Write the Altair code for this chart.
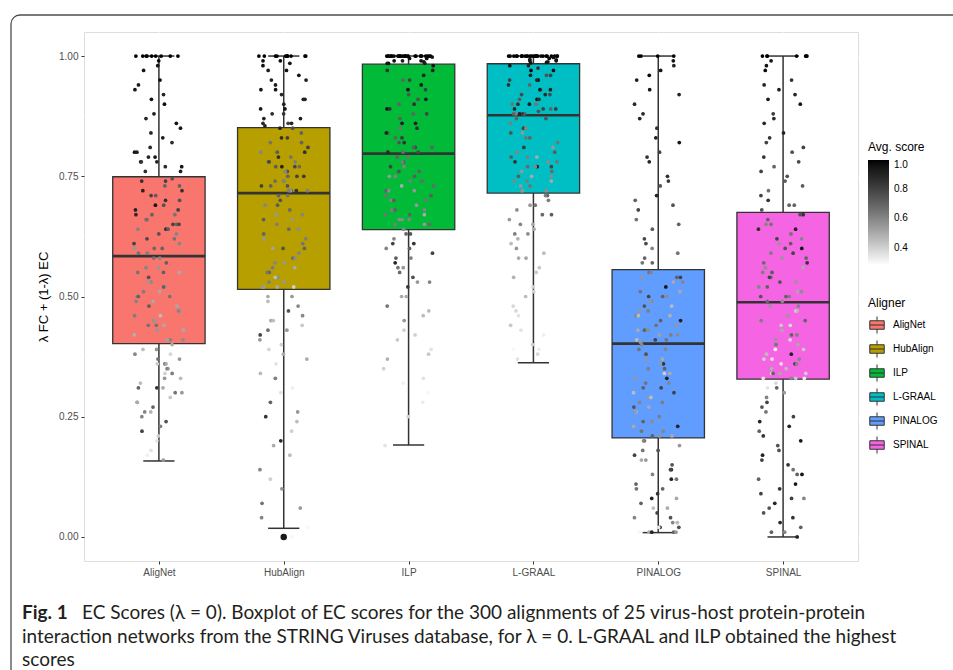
import altair as alt
import pandas as pd

# ---------------- data ----------------
aligners = ["AligNet", "HubAlign", "ILP", "L-GRAAL", "PINALOG", "SPINAL"]
box_colors = ["#F8766D", "#B79F00", "#00BA38", "#00BFC4", "#619CFF", "#F564E3"]
q1 = [0.402, 0.515, 0.639, 0.715, 0.206, 0.328]
median = [0.584, 0.715, 0.797, 0.877, 0.402, 0.488]
q3 = [0.749, 0.851, 0.983, 0.984, 0.556, 0.675]
whisker_low = [0.158, 0.018, 0.191, 0.362, 0.009, 0.000]
whisker_high = [1.0, 1.0, 1.0, 1.0, 1.0, 1.0]

outlier_aligner = ["HubAlign"]
outlier_value = [0.0]

alignet_ec = [1.0, 1.0, 1.0, 1.0, 1.0, 1.0, 0.99, 0.98, 0.95, 0.93, 0.92, 0.90, 0.88, 0.86, 0.84, 0.83, 0.82, 0.80, 0.79, 0.78, 0.78, 0.77, 0.77, 0.76, 0.76,
              0.745, 0.74, 0.73, 0.72, 0.71, 0.71, 0.70, 0.69, 0.69, 0.68, 0.67, 0.67, 0.66, 0.66, 0.65, 0.65, 0.64, 0.64, 0.63, 0.62, 0.62, 0.61, 0.60, 0.60, 0.59,
              0.58, 0.57, 0.56, 0.55, 0.55, 0.54, 0.53, 0.52, 0.52, 0.51, 0.50, 0.50, 0.49, 0.48, 0.48, 0.47, 0.46, 0.46, 0.45, 0.44, 0.44, 0.43, 0.42, 0.41, 0.41,
              0.40, 0.39, 0.38, 0.38, 0.37, 0.36, 0.36, 0.35, 0.34, 0.34, 0.33, 0.32, 0.31, 0.31, 0.30, 0.29, 0.28, 0.27, 0.26, 0.25, 0.24, 0.22, 0.20, 0.17, 0.16,
              1.0, 1.0, 1.0, 0.97, 0.94, 0.91, 0.87, 0.85, 0.81, 0.80, 0.79, 0.78,
              0.74, 0.73, 0.72, 0.70, 0.68, 0.67, 0.65, 0.64, 0.63, 0.61, 0.60, 0.59,
              0.58, 0.56, 0.55, 0.53, 0.51, 0.50, 0.49, 0.47, 0.45, 0.44, 0.43, 0.41,
              0.39, 0.37, 0.36, 0.35, 0.33, 0.31, 0.30, 0.28, 0.26, 0.23, 0.21, 0.18]
alignet_avg = [1, 1, 1, 1, 1, 1, .98, .95, .97, .95, .9, .97, .92, .95, .9, .93, .88, .95, .9, .92, .85, .95, .88, .9, .85,
               .75, .85, .7, .9, .8, .72, .85, .75, .95, .8, .7, .88, .72, .65, .8, .7, .85, .6, .75, .65, .78, .6, .7, .55, .65,
               .6, .7, .55, .65, .5, .75, .6, .55, .7, .5, .65, .58, .6, .5, .72, .55, .62, .45, .58, .5, .65, .55, .48, .6, .52,
               .5, .45, .6, .38, .55, .42, .7, .5, .62, .4, .55, .45, .85, .5, .65, .42, .55, .7, .48, .6, .75, .8, .35, .32, .55,
               1, 1, 1, .95, .92, .96, .9, .94, .88, .92, .95, .9,
               .8, .7, .85, .75, .9, .65, .78, .72, .6, .8, .68, .62,
               .65, .6, .7, .55, .62, .7, .5, .6, .55, .65, .5, .58,
               .55, .65, .5, .6, .45, .7, .55, .5, .6, .62, .4, .35]

hubalign_ec = [1.0, 1.0, 1.0, 1.0, 1.0, 1.0, 1.0, 1.0, 0.99, 0.985, 0.98, 0.97, 0.96, 0.95, 0.94, 0.93, 0.92, 0.91, 0.90, 0.89, 0.88, 0.87, 0.86, 0.86, 0.855,
               0.85, 0.84, 0.83, 0.82, 0.81, 0.80, 0.80, 0.79, 0.78, 0.78, 0.77, 0.77, 0.77, 0.76, 0.76, 0.75, 0.75, 0.74, 0.74, 0.73, 0.73, 0.72, 0.72, 0.72, 0.72,
               0.71, 0.70, 0.69, 0.68, 0.67, 0.66, 0.65, 0.64, 0.63, 0.62, 0.61, 0.60, 0.60, 0.59, 0.58, 0.57, 0.56, 0.56, 0.55, 0.54, 0.54, 0.53, 0.52, 0.52, 0.52,
               0.50, 0.49, 0.47, 0.46, 0.45, 0.44, 0.43, 0.42, 0.41, 0.39, 0.38, 0.36, 0.34, 0.31, 0.28, 0.26, 0.25, 0.22, 0.20, 0.17, 0.14, 0.10, 0.07, 0.04, 0.02, 0.0,
               1.0, 1.0, 1.0, 0.99, 0.97, 0.95, 0.93, 0.91, 0.89, 0.88, 0.87, 0.86,
               0.85, 0.83, 0.82, 0.80, 0.79, 0.78, 0.77, 0.76, 0.75, 0.74, 0.73, 0.72,
               0.71, 0.69, 0.67, 0.66, 0.64, 0.62, 0.60, 0.58, 0.57, 0.55, 0.53, 0.52,
               0.50, 0.48, 0.45, 0.43, 0.40, 0.37, 0.33, 0.30, 0.24, 0.19, 0.12, 0.06]
hubalign_avg = [1, 1, 1, 1, 1, 1, 1, 1, .98, .95, .97, .92, .95, .9, .93, .95, .88, .92, .9, .95, .85, .9, .88, .8, .9,
                .9, .7, .85, .65, .8, .72, .6, .85, .7, .62, .78, .68, .9, .6, .75, .7, .82, .65, .6, .8, .7, .62, .75, .85, .55,
                .7, .75, .6, .68, .55, .72, .62, .58, .7, .55, .65, .75, .52, .6, .68, .55, .62, .5, .7, .58, .45, .62, .5, .4, .55,
                .55, .45, .75, .6, .5, .42, .65, .8, .55, .38, .5, .35, .45, .32, .7, .55, .85, .4, .88, .45, .6, .55, .65, .6, .3, .3,
                1, 1, 1, .97, .95, .93, .96, .9, .94, .88, .92, .9,
                .75, .8, .7, .85, .65, .78, .72, .6, .8, .68, .75, .62,
                .65, .72, .6, .55, .68, .62, .7, .58, .6, .65, .55, .5,
                .5, .6, .45, .55, .4, .5, .62, .35, .45, .5, .4, .55]

ilp_ec = [1.0, 1.0, 1.0, 1.0, 1.0, 1.0, 1.0, 1.0, 1.0, 1.0, 1.0, 1.0, 1.0, 1.0, 1.0, 1.0, 1.0, 1.0, 0.998, 0.995, 0.99, 0.99, 0.988, 0.985, 0.985,
          0.98, 0.97, 0.96, 0.95, 0.94, 0.93, 0.92, 0.91, 0.90, 0.90, 0.89, 0.88, 0.87, 0.86, 0.86, 0.85, 0.84, 0.84, 0.83, 0.82, 0.82, 0.81, 0.81, 0.80, 0.80,
          0.79, 0.78, 0.77, 0.77, 0.76, 0.75, 0.75, 0.74, 0.73, 0.73, 0.72, 0.72, 0.71, 0.70, 0.70, 0.69, 0.68, 0.68, 0.67, 0.67, 0.66, 0.66, 0.65, 0.65, 0.64,
          0.63, 0.62, 0.61, 0.60, 0.59, 0.58, 0.57, 0.56, 0.55, 0.54, 0.53, 0.52, 0.50, 0.48, 0.47, 0.45, 0.43, 0.41, 0.39, 0.37, 0.35, 0.32, 0.30, 0.25, 0.19,
          1.0, 1.0, 1.0, 1.0, 1.0, 1.0, 1.0, 1.0, 1.0, 0.995, 0.99, 0.985,
          0.97, 0.95, 0.93, 0.91, 0.89, 0.88, 0.86, 0.85, 0.83, 0.82, 0.81, 0.80,
          0.79, 0.78, 0.76, 0.75, 0.74, 0.72, 0.71, 0.70, 0.68, 0.67, 0.66, 0.65,
          0.63, 0.61, 0.60, 0.58, 0.56, 0.53, 0.50, 0.46, 0.42, 0.38, 0.33, 0.28]
ilp_avg = [1, 1, .98, 1, .97, 1, 1, .99, 1, .96, 1, 1, .98, 1, .97, 1, .99, 1, .95, .98, .93, .97, .95, .92, .96,
           .95, .85, .9, .7, .95, .8, .75, .9, .85, .7, .95, .8, .72, .9, .65, .85, .75, .9, .7, .85, .6, .8, .72, .68, .78,
           .65, .75, .6, .8, .7, .55, .72, .62, .68, .5, .7, .58, .65, .6, .72, .55, .62, .7, .5, .65, .58, .6, .55, .68, .6,
           .75, .6, .85, .7, .8, .62, .9, .55, .68, .75, .6, .82, .5, .65, .45, .55, .4, .42, .35, .48, .4, .32, .3, .38, .35,
           1, 1, 1, 1, 1, 1, 1, 1, 1, .97, .96, .95,
           .9, .8, .95, .75, .85, .7, .9, .65, .82, .75, .7, .88,
           .7, .62, .75, .6, .68, .55, .72, .65, .6, .7, .58, .62,
           .7, .8, .6, .72, .65, .55, .5, .45, .4, .42, .35, .33]

lgraal_ec = [1.0, 1.0, 1.0, 1.0, 1.0, 1.0, 1.0, 1.0, 1.0, 1.0, 1.0, 1.0, 1.0, 1.0, 1.0, 1.0, 1.0, 1.0, 0.998, 0.995, 0.993, 0.99, 0.99, 0.988, 0.986,
             0.98, 0.975, 0.97, 0.96, 0.96, 0.95, 0.95, 0.94, 0.93, 0.93, 0.92, 0.92, 0.91, 0.91, 0.90, 0.90, 0.90, 0.89, 0.89, 0.89, 0.88, 0.88, 0.88, 0.88, 0.88,
             0.87, 0.86, 0.85, 0.84, 0.83, 0.82, 0.81, 0.80, 0.79, 0.79, 0.78, 0.78, 0.77, 0.77, 0.77, 0.76, 0.76, 0.75, 0.75, 0.74, 0.74, 0.73, 0.73, 0.72, 0.72,
             0.71, 0.70, 0.69, 0.68, 0.67, 0.66, 0.65, 0.64, 0.63, 0.62, 0.60, 0.59, 0.58, 0.56, 0.54, 0.52, 0.50, 0.48, 0.46, 0.44, 0.42, 0.40, 0.39, 0.38, 0.37,
             1.0, 1.0, 1.0, 1.0, 1.0, 1.0, 1.0, 1.0, 1.0, 0.997, 0.992, 0.987,
             0.98, 0.97, 0.96, 0.95, 0.94, 0.93, 0.92, 0.91, 0.90, 0.89, 0.885, 0.88,
             0.87, 0.85, 0.84, 0.83, 0.81, 0.80, 0.79, 0.78, 0.77, 0.75, 0.74, 0.72,
             0.71, 0.69, 0.67, 0.65, 0.63, 0.61, 0.58, 0.55, 0.51, 0.47, 0.43, 0.39]
lgraal_avg = [1, 1, .98, 1, .97, 1, 1, .99, 1, .96, 1, 1, .98, 1, .97, 1, .99, 1, .95, .98, .93, .97, .95, .92, .96,
              .95, .85, .98, .9, .75, .95, .8, .85, .92, .7, .88, .78, .95, .72, .85, .65, .9, .8, .7, .88, .75, .68, .82, .9, .6,
              .75, .62, .8, .55, .7, .65, .82, .6, .72, .5, .85, .65, .9, .8, .6, .55, .68, .72, .58, .62, .5, .65, .55, .6, .58,
              .7, .62, .65, .58, .72, .55, .6, .5, .62, .48, .55, .45, .5, .42, .48, .4, .45, .38, .35, .42, .32, .4, .3, .38, .35,
              1, 1, 1, 1, 1, 1, 1, 1, 1, .97, .96, .95,
              .9, .95, .8, .88, .7, .92, .78, .85, .65, .82, .75, .7,
              .7, .6, .75, .65, .55, .72, .62, .58, .68, .5, .6, .55,
              .62, .55, .68, .5, .58, .45, .52, .42, .4, .38, .35, .32]

pinalog_ec = [1.0, 1.0, 1.0, 0.99, 0.98, 0.96, 0.95, 0.93, 0.90, 0.87, 0.85, 0.82, 0.80, 0.78, 0.75, 0.73, 0.71, 0.70, 0.68, 0.66, 0.64, 0.62, 0.60, 0.58, 0.57,
              0.55, 0.54, 0.54, 0.53, 0.52, 0.51, 0.50, 0.50, 0.49, 0.48, 0.48, 0.47, 0.46, 0.46, 0.45, 0.44, 0.44, 0.43, 0.43, 0.42, 0.42, 0.41, 0.41, 0.405, 0.40,
              0.39, 0.38, 0.37, 0.36, 0.36, 0.35, 0.34, 0.33, 0.33, 0.32, 0.31, 0.30, 0.30, 0.29, 0.28, 0.27, 0.27, 0.26, 0.25, 0.24, 0.23, 0.23, 0.22, 0.21, 0.21,
              0.20, 0.19, 0.18, 0.17, 0.16, 0.15, 0.14, 0.13, 0.12, 0.11, 0.10, 0.09, 0.08, 0.07, 0.06, 0.05, 0.04, 0.03, 0.03, 0.02, 0.02, 0.01, 0.01, 0.01, 0.01,
              1.0, 0.97, 0.92, 0.88, 0.83, 0.79, 0.74, 0.69, 0.65, 0.61, 0.59, 0.57,
              0.55, 0.54, 0.53, 0.51, 0.50, 0.49, 0.47, 0.46, 0.45, 0.43, 0.42, 0.41,
              0.39, 0.37, 0.35, 0.34, 0.32, 0.31, 0.29, 0.28, 0.26, 0.24, 0.22, 0.21,
              0.20, 0.18, 0.16, 0.14, 0.12, 0.10, 0.08, 0.06, 0.04, 0.03, 0.02, 0.01]
pinalog_avg = [1, 1, 1, .95, .9, .98, .92, .95, .88, .9, .85, .95, .8, .9, .85, .75, .9, .7, .8, .65, .72, .78, .6, .7, .65,
               .65, .55, .8, .6, .95, .5, .7, .58, .62, .45, .75, .55, .6, .48, .9, .55, .65, .5, .7, .58, .62, .45, .8, .55, .6,
               .6, .75, .5, .85, .55, .62, .4, .9, .55, .65, .7, .45, .8, .55, .6, .5, .75, .4, .62, .58, .9, .5, .65, .7, .55,
               .7, .55, .65, .8, .5, .75, .85, .6, .9, .7, .65, .85, .5, .7, .45, .8, .75, .6, .4, .85, .35, .7, .5, .3, .9,
               1, .95, .9, .88, .92, .85, .82, .75, .7, .78, .65, .7,
               .6, .7, .5, .65, .8, .55, .62, .45, .7, .58, .52, .65,
               .65, .55, .7, .5, .6, .8, .45, .62, .55, .7, .6, .5,
               .6, .75, .55, .8, .65, .7, .9, .5, .6, .45, .75, .55]

spinal_ec = [1.0, 1.0, 1.0, 1.0, 1.0, 0.99, 0.97, 0.95, 0.93, 0.92, 0.90, 0.88, 0.86, 0.84, 0.82, 0.80, 0.79, 0.77, 0.76, 0.75, 0.73, 0.72, 0.70, 0.69, 0.68,
             0.67, 0.66, 0.65, 0.64, 0.63, 0.62, 0.61, 0.60, 0.60, 0.59, 0.58, 0.57, 0.56, 0.56, 0.55, 0.54, 0.54, 0.53, 0.52, 0.52, 0.51, 0.50, 0.50, 0.49, 0.49,
             0.48, 0.47, 0.46, 0.45, 0.44, 0.43, 0.42, 0.41, 0.41, 0.40, 0.39, 0.38, 0.38, 0.37, 0.37, 0.36, 0.36, 0.35, 0.35, 0.34, 0.34, 0.34, 0.33, 0.33, 0.33,
             0.32, 0.31, 0.30, 0.29, 0.27, 0.25, 0.24, 0.22, 0.21, 0.20, 0.18, 0.17, 0.16, 0.14, 0.13, 0.12, 0.10, 0.09, 0.08, 0.07, 0.05, 0.04, 0.02, 0.01, 0.00,
             1.0, 1.0, 0.98, 0.94, 0.91, 0.87, 0.83, 0.81, 0.78, 0.74, 0.71, 0.69,
             0.67, 0.65, 0.64, 0.62, 0.61, 0.59, 0.58, 0.57, 0.55, 0.53, 0.51, 0.50,
             0.48, 0.47, 0.45, 0.44, 0.42, 0.40, 0.39, 0.37, 0.36, 0.35, 0.34, 0.33,
             0.31, 0.28, 0.26, 0.23, 0.19, 0.15, 0.13, 0.11, 0.08, 0.06, 0.03, 0.01]
spinal_avg = [1, 1, 1, 1, 1, .95, .98, .85, .92, .9, .95, .82, .88, .9, .8, .75, .85, .7, .8, .75, .72, .65, .85, .7, .75,
              .85, .7, .6, .9, .65, .8, .55, .75, .95, .62, .7, .85, .58, .5, .72, .65, .8, .55, .6, .7, .5, .62, .75, .58, .68,
              .6, .35, .55, .7, .42, .5, .62, .38, .55, .65, .32, .45, .9, .4, .6, .35, .8, .45, .55, .38, .7, .5, .35, .6, .42,
              .38, .35, .55, .6, .75, .8, .9, .7, .85, .95, .75, .9, .8, .65, .95, .7, .85, .8, .6, .9, .75, .85, .7, .6, .9,
              1, 1, .96, .9, .93, .88, .85, .8, .78, .72, .8, .7,
              .75, .65, .85, .6, .72, .8, .55, .68, .62, .75, .58, .7,
              .55, .45, .62, .38, .7, .5, .42, .35, .6, .48, .4, .32,
              .7, .8, .65, .9, .75, .85, .7, .95, .8, .75, .88, .7]

caption_bold = "Fig. 1"
caption_lines = [
    "EC Scores (λ = 0). Boxplot of EC scores for the 300 alignments of 25 virus-host protein-protein",
    "interaction networks from the STRING Viruses database, for λ = 0. L-GRAAL and ILP obtained the highest",
    "scores",
]

# ---------------- tables ----------------
point_lists = {
    "AligNet": (alignet_ec, alignet_avg),
    "HubAlign": (hubalign_ec, hubalign_avg),
    "ILP": (ilp_ec, ilp_avg),
    "L-GRAAL": (lgraal_ec, lgraal_avg),
    "PINALOG": (pinalog_ec, pinalog_avg),
    "SPINAL": (spinal_ec, spinal_avg),
}
rows = []
for k, name in enumerate(aligners):
    ecs, avgs = point_lists[name]
    for e, a in zip(ecs, avgs):
        rows.append({"Aligner": name, "pos": k + 1, "ec": e, "avg": a})
points = pd.DataFrame(rows)

boxes = pd.DataFrame({
    "Aligner": aligners, "pos": list(range(1, len(aligners) + 1)),
    "q1": q1, "med": median, "q3": q3, "lo": whisker_low, "hi": whisker_high,
})
outliers = pd.DataFrame({
    "Aligner": outlier_aligner,
    "pos": [aligners.index(a) + 1 for a in outlier_aligner],
    "ec": outlier_value,
})
minor = pd.DataFrame({"v": [0.125, 0.375, 0.625, 0.875]})
one = pd.DataFrame({"k": [0]})

# ---------------- scales / axes ----------------
FONT = "Liberation Sans"
label_arr = "[" + ",".join("'" + a + "'" for a in aligners) + "]"
xscale = alt.Scale(domain=[0.4, 6.6], nice=False, zero=False)
yscale = alt.Scale(domain=[-0.05, 1.05], nice=False, zero=False)
xaxis = alt.Axis(values=[1, 2, 3, 4, 5, 6], labelExpr=label_arr + "[datum.value - 1]",
                 title="", grid=True, gridColor="white", gridWidth=1.1, domain=False,
                 tickColor="#333333", tickSize=3, labelColor="#4D4D4D", labelFontSize=10,
                 labelFont=FONT, labelPadding=3)
yaxis = alt.Axis(values=[0, 0.25, 0.5, 0.75, 1.0], format=".2f", title="λ FC + (1-λ) EC",
                 grid=True, gridColor="white", gridWidth=1.1, domain=False,
                 tickColor="#333333", tickSize=3, labelColor="#4D4D4D", labelFontSize=10,
                 labelFont=FONT, labelPadding=3, titleFont=FONT, titleFontSize=13,
                 titleFontWeight="normal", titleColor="black", titlePadding=8)

minor_layer = alt.Chart(minor).mark_rule(color="white", strokeWidth=0.55).encode(
    y=alt.Y("v:Q", scale=yscale, axis=yaxis)
)

whisk = alt.Chart(boxes).mark_rule(color="#333333", strokeWidth=1.5).encode(
    x=alt.X("pos:Q", scale=xscale, axis=xaxis),
    y=alt.Y("lo:Q", scale=yscale, axis=yaxis),
    y2="hi:Q",
)
caps_base = alt.Chart(boxes).transform_calculate(
    xa="datum.pos - 0.125", xb="datum.pos + 0.125"
)
cap_lo = caps_base.mark_rule(color="#333333", strokeWidth=1.5).encode(
    x=alt.X("xa:Q", scale=xscale, axis=xaxis), x2="xb:Q",
    y=alt.Y("lo:Q", scale=yscale, axis=yaxis),
)
cap_hi = caps_base.mark_rule(color="#333333", strokeWidth=1.5).encode(
    x=alt.X("xa:Q", scale=xscale, axis=xaxis), x2="xb:Q",
    y=alt.Y("hi:Q", scale=yscale, axis=yaxis),
)

glyph = "M-0.85,-0.5H0.85V0.5H-0.85Z M-0.85,0H0.85 M0,-0.5V-1 M0,0.5V1"
box = alt.Chart(boxes).transform_calculate(
    xa="datum.pos - 0.37", xb="datum.pos + 0.37"
).mark_rect(stroke="#333333", strokeWidth=1.3).encode(
    x=alt.X("xa:Q", scale=xscale, axis=xaxis), x2="xb:Q",
    y=alt.Y("q1:Q", scale=yscale, axis=yaxis), y2="q3:Q",
    fill=alt.Fill("Aligner:N", scale=alt.Scale(domain=aligners, range=box_colors),
                  legend=alt.Legend(title="Aligner", orient="none", legendX=784, legendY=266,
                                    symbolType=glyph, symbolSize=289, symbolStrokeColor="#333333",
                                    symbolStrokeWidth=1, labelFontSize=10, labelFont=FONT,
                                    titleFont=FONT, titleFontSize=12, titleFontWeight="normal",
                                    titleColor="black", labelColor="black", rowPadding=2,
                                    labelOffset=7, titlePadding=6)),
)
med = alt.Chart(boxes).transform_calculate(
    xa="datum.pos - 0.37", xb="datum.pos + 0.37"
).mark_rule(color="#333333", strokeWidth=2.6).encode(
    x=alt.X("xa:Q", scale=xscale, axis=xaxis), x2="xb:Q",
    y=alt.Y("med:Q", scale=yscale, axis=yaxis),
)
outl = alt.Chart(outliers).mark_circle(color="#1a1a1a", size=42, opacity=1).encode(
    x=alt.X("pos:Q", scale=xscale, axis=xaxis),
    y=alt.Y("ec:Q", scale=yscale, axis=yaxis),
)
pts = alt.Chart(points).transform_window(
    idx="row_number()", groupby=["Aligner"]
).transform_calculate(
    jx="datum.pos + 0.2 * (2 * (abs(sin(datum.idx * 12.9898 + datum.pos * 78.233) * 43758.5453) % 1) - 1)"
).mark_circle(size=14, opacity=1).encode(
    x=alt.X("jx:Q", scale=xscale, axis=xaxis),
    y=alt.Y("ec:Q", scale=yscale, axis=yaxis),
    color=alt.Color("avg:Q", scale=alt.Scale(domain=[0.28, 1.0], range=["#FFFFFF", "#000000"],
                                             interpolate="lab"),
                    legend=alt.Legend(title="Avg. score", orient="none", legendX=784, legendY=110,
                                      values=[0.4, 0.6, 0.8, 1.0], format=".1f", gradientLength=105,
                                      gradientThickness=21, labelFontSize=10, labelFont=FONT,
                                      titleFont=FONT, titleFontSize=12, titleFontWeight="normal",
                                      titleColor="black", labelColor="black", titlePadding=6,
                                      labelOffset=5, gradientStrokeWidth=0)),
)

border = alt.Chart(one).mark_rect(fillOpacity=0, stroke="#4D4D4D", strokeWidth=1.3,
                                  cornerRadius=9).encode(
    x=alt.value(-73), x2=alt.value(920), y=alt.value(-17), y2=alt.value(720)
)
cap_font = "Lato"
cap0 = alt.Chart(one).mark_text(text=caption_bold, font=cap_font, fontSize=19, fontWeight="bold",
                                align="left", baseline="middle", color="#231F20").encode(
    x=alt.value(-62), y=alt.value(581))
cap1 = alt.Chart(one).mark_text(text=caption_lines[0], font=cap_font, fontSize=19,
                                align="left", baseline="middle", color="#231F20").encode(
    x=alt.value(-2), y=alt.value(581))
cap2 = alt.Chart(one).mark_text(text=caption_lines[1], font=cap_font, fontSize=19,
                                align="left", baseline="middle", color="#231F20").encode(
    x=alt.value(-62), y=alt.value(605))
cap3 = alt.Chart(one).mark_text(text=caption_lines[2], font=cap_font, fontSize=19,
                                align="left", baseline="middle", color="#231F20").encode(
    x=alt.value(-62), y=alt.value(628))

chart = alt.layer(
    minor_layer, whisk, cap_lo, cap_hi, box, med, outl, pts, border, cap0, cap1, cap2, cap3
).properties(
    width=774, height=529,
    autosize=alt.AutoSizeParams(type="none"),
    padding={"left": 84, "top": 32, "right": 95, "bottom": 109},
    background="white",
).configure_view(
    fill="#EBEBEB", stroke="transparent"
).configure(font=FONT)

chart.save("out.html", embed_options={"renderer": "svg", "actions": False})
